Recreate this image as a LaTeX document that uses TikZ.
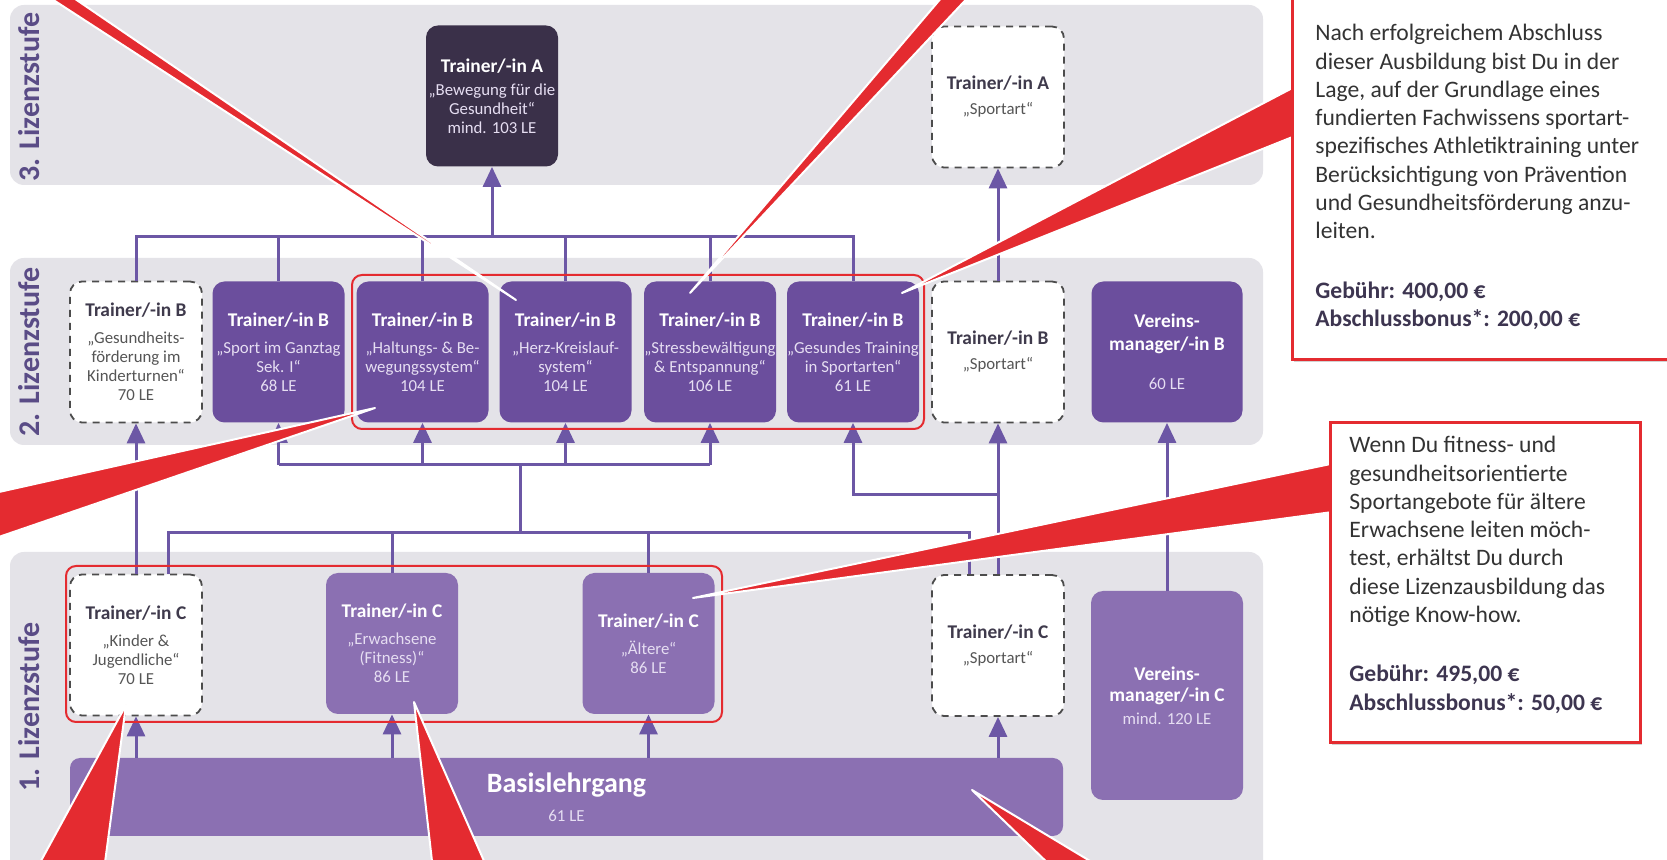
\documentclass[tikz,border=0pt]{standalone}
\usepackage{fontspec}
\setmainfont{Carlito}
\usetikzlibrary{arrows.meta,shadows}

\definecolor{bandgray}{HTML}{E4E3E8}
\definecolor{purB}{HTML}{6B4E9D}
\definecolor{purC}{HTML}{8B70B2}
\definecolor{darkA}{HTML}{3A3049}
\definecolor{connc}{HTML}{6C57A5}
\definecolor{redc}{HTML}{E42B30}
\definecolor{labc}{HTML}{5A4C86}
\definecolor{subw}{HTML}{E6DEF2}
\definecolor{dashtitle}{HTML}{3F3A4C}
\definecolor{dashsub}{HTML}{555555}
\definecolor{txtc}{HTML}{333333}
\definecolor{boldc}{HTML}{3D3550}

\newcommand{\tw}[1]{{\fontsize{9.7}{11}\selectfont\bfseries\color{white}#1}}
\newcommand{\td}[1]{{\fontsize{9.7}{11}\selectfont\bfseries\color{dashtitle}#1}}
\newcommand{\cb}[1]{{\bfseries\color{boldc}#1}}

\tikzset{
  band/.style={fill=bandgray, rounded corners=7pt},
  lic/.style={rounded corners=6pt, minimum width=66pt, minimum height=70.5pt, inner sep=0pt, align=center, font=\fontsize{8.4}{9.5}\selectfont},
  boxB/.style={lic, fill=purB, text=subw},
  boxC/.style={lic, fill=purC, text=subw},
  boxA/.style={lic, fill=darkA, text=subw},
  dbox/.style={lic, fill=white, draw=black!70, dash pattern=on 3.5pt off 3pt, line width=0.9pt, text=dashsub},
  conn/.style={draw=connc, line width=1.5pt},
  arr/.style={conn, -{Triangle[width=9pt,length=10pt]}},
  redframe/.style={draw=redc, line width=1pt, rounded corners=5pt},
  wedge/.style={fill=redc, draw=white, line width=1pt, line join=round},
  callout/.style={fill=white, draw=redc, line width=1.5pt, drop shadow={shadow xshift=1.2pt, shadow yshift=-1.2pt, opacity=0.35}},
  ctext/.style={align=left, inner sep=0pt, text=txtc, font=\fontsize{11.8}{14.15}\selectfont, anchor=north west},
  bandlabel/.style={rotate=90, font=\fontsize{15}{15}\selectfont\bfseries, text=labc, inner sep=0pt}
}

\begin{document}
\begin{tikzpicture}[x=0.5pt,y=-0.5pt]
\useasboundingbox (0,0) rectangle (1667,860);
\clip (0,0) rectangle (1667,860);
\fill[white] (0,0) rectangle (1667,860);

% bands
\fill[band] (10,5) rectangle (1263,185);
\fill[band] (10,258) rectangle (1263,445);
\fill[band] (10,552) rectangle (1263,880);
\node[bandlabel] (l3) at (29,97) {3. Lizenzstufe};
\node[bandlabel] (l2) at (29,352) {2. Lizenzstufe};
\node[bandlabel] (l1) at (29,707) {1. Lizenzstufe};

% level 3
\node[boxA] (aA) at (492,96) {\tw{Trainer/-in A}\\[2pt]„Bewegung für die\\Gesundheit“\\mind. 103 LE};
\node[dbox] (sportA) at (998,97) {\td{Trainer/-in A}\\[3pt]„Sportart“};

% level 2
\node[dbox] (gesund) at (136,352) {\td{Trainer/-in B}\\[4pt]„Gesundheits-\\förderung im\\Kinderturnen“\\70 LE};
\node[boxB] (ganztag) at (278.5,352) {\tw{Trainer/-in B}\\[4pt]„Sport im Ganztag\\Sek. I“\\68 LE};
\node[boxB] (haltung) at (422.5,352) {\tw{Trainer/-in B}\\[4pt]„Haltungs- \& Be-\\wegungssystem“\\104 LE};
\node[boxB] (herz) at (565.5,352) {\tw{Trainer/-in B}\\[4pt]„Herz-Kreislauf-\\system“\\104 LE};
\node[boxB] (stress) at (710,352) {\tw{Trainer/-in B}\\[4pt]„Stressbewältigung\\\& Entspannung“\\106 LE};
\node[boxB] (gestr) at (853,352) {\tw{Trainer/-in B}\\[4pt]„Gesundes Training\\in Sportarten“\\61 LE};
\node[dbox] (sportB) at (998,352) {\td{Trainer/-in B}\\[3pt]„Sportart“};
\node[boxB, minimum width=75.5pt] (vmB) at (1167,352) {\tw{Vereins-}\\[2pt]\tw{manager/-in B}\\[10pt]60 LE};

% level 1
\node[dbox] (kinder) at (136,645) {\td{Trainer/-in C}\\[4pt]„Kinder \&\\Jugendliche“\\70 LE};
\node[boxC] (erw) at (392,643.5) {\tw{Trainer/-in C}\\[4pt]„Erwachsene\\(Fitness)“\\86 LE};
\node[boxC] (aelt) at (648.5,643.5) {\tw{Trainer/-in C}\\[4pt]„Ältere“\\86 LE};
\node[dbox] (sportC) at (998,645.5) {\td{Trainer/-in C}\\[3pt]„Sportart“};
\node[boxC, minimum width=76pt, minimum height=104.5pt] (vmC) at (1167,695.5) {\tw{Vereins-}\\[1pt]\tw{manager/-in C}\\[2pt]mind. 120 LE};
\node[boxC, minimum width=496.5pt, minimum height=39pt, rounded corners=5pt] (basis) at (566.5,797) {{\fontsize{14}{16}\selectfont\bfseries\color{white}Basislehrgang}\\[5pt]61 LE};

% connectors level 2 -> 3
\coordinate (t) at (0,237);
\draw[conn] (gesund.north) -- (gesund.north |- t) -- (gestr.north |- t) -- (gestr.north);
\foreach \n in {ganztag,haltung,herz,stress} \draw[conn] (\n.north) -- (\n.north |- t);
\draw[arr] (aA.south |- t) -- (aA.south);
\draw[arr] (sportB.north) -- (sportA.south);
\draw[arr] (vmC.north) -- (vmB.south);

% connectors level 1 -> 2
\draw[arr] (kinder.north) -- (gesund.south);
\coordinate (j1) at (168,533);
\coordinate (j2) at (969,533);
\draw[conn] (kinder.north -| j1) -- (j1) -- (j2) -- (sportC.north -| j2);
\draw[conn] (erw.north) -- (erw.north |- j1);
\draw[conn] (aelt.north) -- (aelt.north |- j1);
\coordinate (k1) at (520,533);
\coordinate (k2) at (520,465);
\draw[conn] (k1) -- (k2);
\draw[conn] (ganztag.south |- k2) -- (stress.south |- k2);
\foreach \n in {ganztag,haltung,herz,stress} \draw[arr] (\n.south |- k2) -- (\n.south);
\coordinate (m) at (0,495);
\draw[arr] (sportC.north) -- (sportB.south);
\draw[arr] (sportC.north |- m) -- (gestr.south |- m) -- (gestr.south);

% basis -> level 1
\foreach \n in {kinder,erw,aelt,sportC} \draw[arr] (\n.south |- basis.north) -- (\n.south);

% red frames
\draw[redframe] (352,275) rectangle (924,429);
\draw[redframe] (66,566) rectangle (722,722);

% wedges
\path[wedge] (516,300) -- (38,-10) -- (62,-10) -- cycle;
\path[wedge] (690,293) -- (948,-10) -- (975,-10) -- cycle;
\path[wedge] (902,293) -- (1300,84) -- (1300,134) -- cycle;
\path[wedge] (375,408) -- (-10,494) -- (-10,540) -- cycle;
\path[wedge] (693,598) -- (1340,462) -- (1340,511) -- cycle;
\path[wedge] (126,705) -- (36,870) -- (104,870) -- cycle;
\path[wedge] (414,702) -- (433,870) -- (488,870) -- cycle;
\path[wedge] (972,790) -- (1055,870) -- (1105,870) -- cycle;

% callouts
\draw[callout] (1292,-10) rectangle (1690,360);
\draw[callout] (1330,423) rectangle (1640,743);
\node[ctext] (c1) at (1315,24) {Nach erfolgreichem Abschluss\\dieser Ausbildung bist Du in der\\Lage, auf der Grundlage eines\\fundierten Fachwissens sportart-\\spezifisches Athletiktraining unter\\Berücksichtigung von Prävention\\und Gesundheitsförderung anzu-\\leiten.\\[15.5pt]\cb{Gebühr: 400,00 €}\\\cb{Abschlussbonus*: 200,00 €}};
\node[ctext] (c2) at (1349,436) {Wenn Du fitness- und\\gesundheitsorientierte\\Sportangebote für ältere\\Erwachsene leiten möch-\\test, erhältst Du durch\\diese Lizenzausbildung das\\nötige Know-how.\\[15.5pt]\cb{Gebühr: 495,00 €}\\\cb{Abschlussbonus*: 50,00 €}};
\end{tikzpicture}
\end{document}
